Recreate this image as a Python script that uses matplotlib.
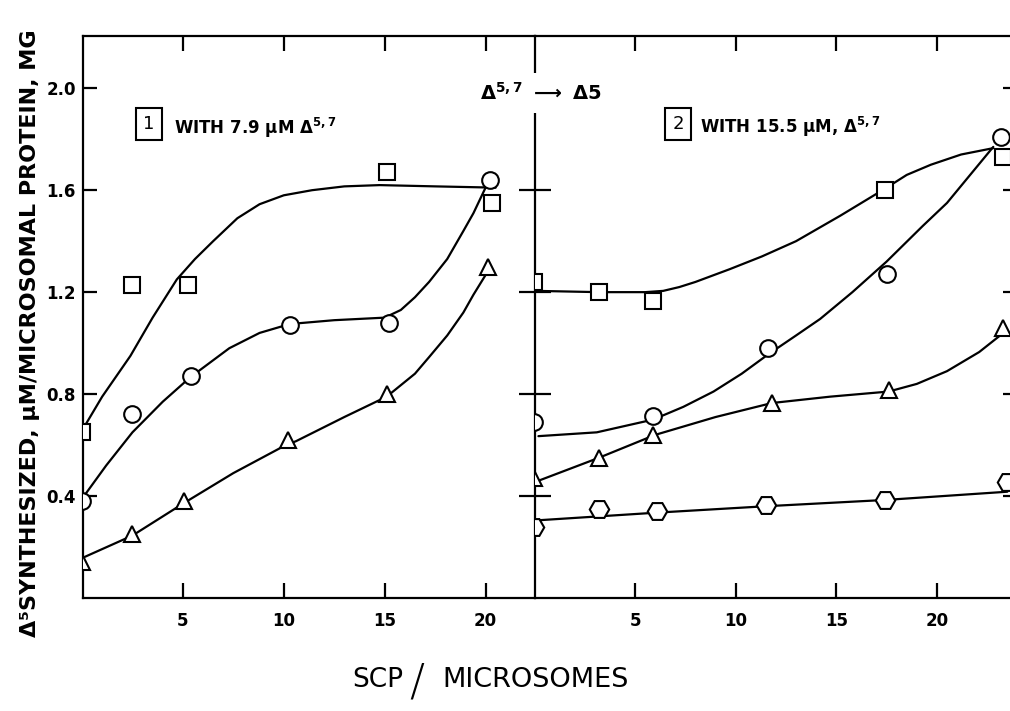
import matplotlib
matplotlib.use("Agg")
import matplotlib.pyplot as plt

plt.rcParams['font.family'] = ['DejaVu Sans']
plt.rcParams['font.weight'] = 'bold'
plt.rcParams['mathtext.fontset'] = 'dejavusans'
plt.rcParams['mathtext.default'] = 'bf'

# ---- panel 1: with 7.9 uM delta 5,7 ----
p1_sq_x = [0, 2.5, 5.25, 15.1, 20.3]
p1_sq_y = [0.65, 1.23, 1.23, 1.67, 1.55]
p1_ci_x = [0, 2.5, 5.4, 10.3, 15.2, 20.2]
p1_ci_y = [0.38, 0.72, 0.87, 1.07, 1.08, 1.64]
p1_tr_x = [0, 2.5, 5.05, 10.2, 15.1, 20.1]
p1_tr_y = [0.14, 0.25, 0.38, 0.62, 0.80, 1.30]

# hand-drawn fitted curves
p1_sq_fit_x = [0.1, 1.0, 2.4, 3.5, 4.7, 5.6, 6.5, 7.7, 8.8, 10.0, 11.4, 13.0, 14.75, 17.5, 20.5]
p1_sq_fit_y = [0.67, 0.79, 0.95, 1.10, 1.25, 1.33, 1.40, 1.49, 1.545, 1.58, 1.60, 1.615, 1.62, 1.615, 1.61]
p1_ci_fit_x = [0.1, 1.2, 2.5, 4.0, 5.35, 7.3, 8.8, 10.3, 12.5, 15.0, 15.8, 16.5, 17.2, 18.1, 18.9, 19.4, 20.0]
p1_ci_fit_y = [0.40, 0.52, 0.65, 0.77, 0.865, 0.98, 1.04, 1.075, 1.09, 1.10, 1.13, 1.18, 1.24, 1.33, 1.44, 1.51, 1.61]
p1_tr_fit_x = [0.1, 2.5, 5.0, 7.5, 10.1, 10.6, 13.0, 15.1, 15.8, 16.5, 17.2, 18.1, 18.9, 19.4, 20.1]
p1_tr_fit_y = [0.16, 0.245, 0.37, 0.49, 0.60, 0.615, 0.71, 0.79, 0.835, 0.88, 0.945, 1.03, 1.12, 1.19, 1.28]

# ---- panel 2: with 15.5 uM delta 5,7 ----
p2_sq_x = [0, 3.2, 5.9, 17.4, 23.3]
p2_sq_y = [1.24, 1.20, 1.165, 1.60, 1.73]
p2_ci_x = [0, 5.9, 11.6, 17.5, 23.2]
p2_ci_y = [0.69, 0.715, 0.98, 1.27, 1.81]
p2_tr_x = [0, 3.2, 5.9, 11.8, 17.6, 23.3]
p2_tr_y = [0.47, 0.55, 0.64, 0.765, 0.815, 1.06]
p2_hx_x = [0, 3.2, 6.1, 11.5, 17.4, 23.5]
p2_hx_y = [0.28, 0.35, 0.34, 0.365, 0.385, 0.455]

p2_sq_fit_x = [0.1, 3.2, 5.5, 6.4, 7.2, 8.0, 9.7, 11.3, 13.0, 15.2, 17.4, 18.5, 19.7, 21.2, 22.8]
p2_sq_fit_y = [1.205, 1.20, 1.20, 1.205, 1.22, 1.24, 1.29, 1.34, 1.40, 1.50, 1.605, 1.66, 1.70, 1.74, 1.765]
p2_ci_fit_x = [0.2, 3.1, 5.9, 7.4, 8.9, 10.3, 11.6, 13.0, 14.2, 15.8, 17.5, 19.3, 20.5, 22.8]
p2_ci_fit_y = [0.635, 0.65, 0.70, 0.75, 0.81, 0.88, 0.955, 1.03, 1.095, 1.20, 1.32, 1.46, 1.55, 1.77]
p2_tr_fit_x = [0.2, 3.2, 6.0, 9.0, 11.8, 14.7, 17.6, 19.0, 20.5, 22.1, 23.3]
p2_tr_fit_y = [0.46, 0.55, 0.64, 0.71, 0.765, 0.79, 0.81, 0.84, 0.89, 0.965, 1.04]
p2_hx_fit_x = [0.2, 6.1, 11.5, 17.5, 23.5]
p2_hx_fit_y = [0.305, 0.335, 0.36, 0.385, 0.417]

x_ticks = [5, 10, 15, 20]
y_ticks = [0.4, 0.8, 1.2, 1.6, 2.0]
y_ticklabels = ['0.4', '0.8', '1.2', '1.6', '2.0']

W, H = 1010, 711
fig = plt.figure(figsize=(W / 100, H / 100), dpi=100)
ax1 = fig.add_axes([83 / W, 113 / H, 452 / W, 562 / H])
ax2 = fig.add_axes([535 / W, 113 / H, 478 / W, 562 / H])

line_kw = dict(color='black', lw=1.6, solid_capstyle='round', solid_joinstyle='round', zorder=2)
mk_kw = dict(ls='none', mfc='white', mec='black', mew=1.5, zorder=3)

ax1.plot(p1_sq_fit_x, p1_sq_fit_y, **line_kw)
ax1.plot(p1_ci_fit_x, p1_ci_fit_y, **line_kw)
ax1.plot(p1_tr_fit_x, p1_tr_fit_y, **line_kw)
ax1.plot(p1_sq_x, p1_sq_y, marker='s', ms=11, **mk_kw)
ax1.plot(p1_ci_x, p1_ci_y, marker='o', ms=12, **mk_kw)
ax1.plot(p1_tr_x, p1_tr_y, marker='^', ms=11, **mk_kw)

ax2.plot(p2_sq_fit_x, p2_sq_fit_y, **line_kw)
ax2.plot(p2_ci_fit_x, p2_ci_fit_y, **line_kw)
ax2.plot(p2_tr_fit_x, p2_tr_fit_y, **line_kw)
ax2.plot(p2_hx_fit_x, p2_hx_fit_y, **line_kw)
ax2.plot(p2_sq_x, p2_sq_y, marker='s', ms=11, **mk_kw)
ax2.plot(p2_ci_x, p2_ci_y, marker='o', ms=12, **mk_kw)
ax2.plot(p2_tr_x, p2_tr_y, marker='^', ms=11, **mk_kw)
ax2.plot(p2_hx_x, p2_hx_y, marker='H', ms=14, **mk_kw)

ax1.set_xlim(0.05, 22.45)
ax2.set_xlim(0.03, 23.78)
for ax in (ax1, ax2):
    ax.set_ylim(0.0, 2.205)
    ax.set_xticks(x_ticks)
    ax.set_xticklabels([str(t) for t in x_ticks])
    for s in ax.spines.values():
        s.set_linewidth(1.6)
    ax.tick_params(axis='x', which='both', direction='in', top=True, bottom=True,
                   length=11, width=1.6, pad=10, labelsize=12)
    for lab in ax.get_xticklabels():
        lab.set_fontweight('bold')

ax1.spines['right'].set_visible(False)
ax1.set_yticks(y_ticks)
ax1.set_yticklabels(y_ticklabels, fontsize=12, fontweight='bold')
ax1.tick_params(axis='y', direction='in', left=True, right=False, length=10, width=1.6, pad=5)

ax2.spines['right'].set_visible(False)
ax2.set_yticks(y_ticks)
ax2.set_yticklabels([])
ax2.tick_params(axis='y', direction='inout', left=True, right=True, length=23, width=1.6)
for t in ax2.yaxis.get_major_ticks():
    t.tick2line.set_markersize(14)

# axis labels
fig.text(30 / W, 1 - 333 / H, 'Δ⁵SYNTHESIZED, μM/MICROSOMAL PROTEIN, MG', rotation=90,
         ha='center', va='center', fontsize=16, fontweight='bold')
fig.text(378 / W, 1 - 680 / H, 'SCP', ha='center', va='center', fontsize=19, fontweight='normal')
fig.text(417 / W, 1 - 683 / H, '/', ha='center', va='center', fontsize=32, fontweight='light')
fig.text(536 / W, 1 - 680 / H, 'MICROSOMES', ha='center', va='center', fontsize=19.5, fontweight='normal')

# panel annotations
box_kw = dict(boxstyle='square,pad=0.4', fc='white', ec='black', lw=1.5)
fig.text(149 / W, 1 - 124 / H, '1', ha='center', va='center', fontsize=13, fontweight='normal', bbox=box_kw)
fig.text(174 / W, 1 - 128 / H, r'WITH 7.9 $\mu$M $\Delta^{5,7}$', ha='left', va='center', fontsize=12)
fig.text(678 / W, 1 - 124 / H, '2', ha='center', va='center', fontsize=13, fontweight='normal', bbox=box_kw)
fig.text(700 / W, 1 - 127 / H, r'WITH 15.5 $\mu$M, $\Delta^{5,7}$', ha='left', va='center', fontsize=12)
fig.text(541 / W, 1 - 93 / H, r'$\Delta^{5,7}$ $\longrightarrow$ $\Delta$5', ha='center', va='center',
         fontsize=14, bbox=dict(boxstyle='square,pad=0.45', fc='white', ec='none'))

fig.savefig('out.png', dpi=100)
